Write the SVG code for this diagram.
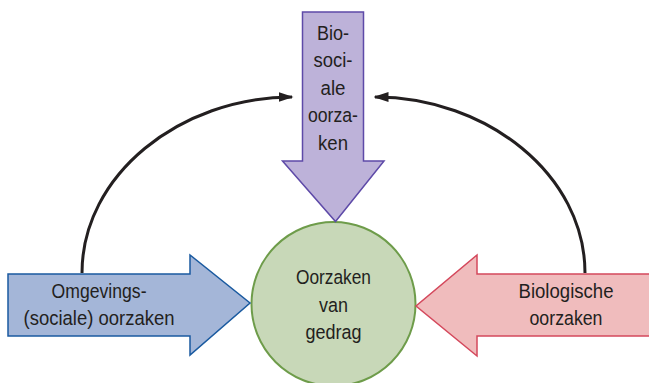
<svg xmlns="http://www.w3.org/2000/svg" width="649" height="383" viewBox="0 0 649 383">
<defs>
<style>
.lbl{font-family:"Liberation Sans","Arial",sans-serif;font-size:20.5px;fill:#231f20;text-anchor:middle}
.conn{fill:none;stroke:#231f20;stroke-width:3}
</style>
<marker id="ah" viewBox="0 0 10 6.6" refX="9" refY="3.3" markerWidth="5" markerHeight="3.3" markerUnits="strokeWidth" orient="auto">
<path d="M0,0 L10,3.3 L0,6.6 Z" fill="#231f20"/>
</marker>
</defs>
<rect width="649" height="383" fill="#ffffff"/>
<g id="connectors">
<path class="conn" d="M82,273 C82,175 180,97 292,97" marker-end="url(#ah)"/>
<path class="conn" d="M585,273 C585,175 487,97 375,97" marker-end="url(#ah)"/>
</g>
<g id="center">
<circle cx="333.5" cy="304" r="82" fill="#c8d8b8" stroke="#6e9c4a" stroke-width="2"/>
<text class="lbl" x="333.5" y="284" textLength="75" lengthAdjust="spacingAndGlyphs">Oorzaken</text>
<text class="lbl" x="333.5" y="312" textLength="29" lengthAdjust="spacingAndGlyphs">van</text>
<text class="lbl" x="333.5" y="339" textLength="56" lengthAdjust="spacingAndGlyphs">gedrag</text>
</g>
<g id="biosocial">
<polygon points="302.5,12 363.5,12 363.5,161 384,161 335.5,221.5 282.5,161 302.5,161" fill="#bdb2d9" stroke="#5e4aa8" stroke-width="1.5"/>
<text class="lbl" x="333" y="40" textLength="32" lengthAdjust="spacingAndGlyphs">Bio-</text>
<text class="lbl" x="333" y="67" textLength="39" lengthAdjust="spacingAndGlyphs">soci-</text>
<text class="lbl" x="333" y="95" textLength="25" lengthAdjust="spacingAndGlyphs">ale</text>
<text class="lbl" x="333" y="122" textLength="50" lengthAdjust="spacingAndGlyphs">oorza-</text>
<text class="lbl" x="333" y="150" textLength="30" lengthAdjust="spacingAndGlyphs">ken</text>
</g>
<g id="environmental">
<polygon points="8,274 190,274 190,255 250,303 190,355 190,336 8,336" fill="#a4b6d8" stroke="#1a5aa0" stroke-width="1.5"/>
<text class="lbl" x="99" y="298" textLength="95" lengthAdjust="spacingAndGlyphs">Omgevings-</text>
<text class="lbl" x="99" y="325" textLength="151" lengthAdjust="spacingAndGlyphs">(sociale) oorzaken</text>
</g>
<g id="biological">
<polygon points="650,274 477,274 477,255 416,306 477,356 477,336 650,336" fill="#f0bcbd" stroke="#d4485c" stroke-width="1.5"/>
<text class="lbl" x="566" y="298" textLength="95" lengthAdjust="spacingAndGlyphs">Biologische</text>
<text class="lbl" x="566" y="325" textLength="73" lengthAdjust="spacingAndGlyphs">oorzaken</text>
</g>
</svg>
